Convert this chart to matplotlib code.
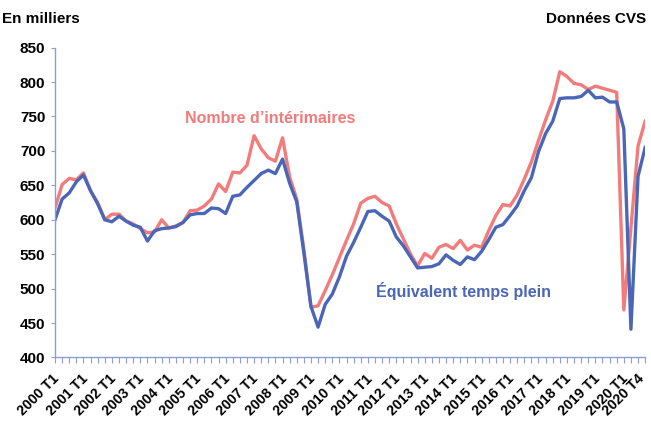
import matplotlib
matplotlib.use("Agg")
import matplotlib.pyplot as plt
import matplotlib.transforms as mtrans
import numpy as np

plt.rcParams['font.family'] = ['Liberation Sans', 'DejaVu Sans']

years = list(range(2000, 2021))
quarters = [f"{y} T{q}" for y in years for q in range(1, 5)]

nombre = [617, 651, 660, 658, 668, 642, 625, 600, 608, 608, 598, 594, 587, 581, 582, 600,
          588, 591, 596, 613, 614, 620, 630, 652, 641, 669, 668, 679, 722, 703, 690, 685,
          719, 662, 630, 557, 473, 475, 497, 520, 545, 570, 594, 624, 631, 634, 625, 620,
          594, 572, 550, 533, 551, 544, 560, 564, 558, 570, 556, 563, 560, 584, 606, 622,
          620, 636, 659, 684, 715, 745, 772, 815, 808, 798, 796, 789, 794, 791, 788, 785,
          469, 588, 707, 743]

etp = [600, 630, 639, 655, 665, 642, 623, 600, 597, 605, 598, 592, 589, 569, 584, 587,
       588, 590, 596, 607, 609, 609, 617, 616, 609, 634, 636, 647, 657, 667, 672, 667,
       688, 653, 626, 552, 474, 444, 477, 492, 517, 547, 567, 589, 612, 613, 605, 598,
       575, 562, 546, 530, 531, 532, 536, 549, 541, 535, 546, 542, 554, 571, 589, 593,
       606, 620, 642, 661, 699, 725, 743, 776, 777, 777, 779, 788, 777, 778, 771, 771,
       732, 441, 663, 705]

tick_labels_shown = [f"{y} T1" for y in years] + ["2020 T4"]

red = '#F27B7B'
blue = '#4A66B6'
axis_col = '#8C9FD4'

fig = plt.figure(figsize=(6.51, 4.21), dpi=100)
ax = fig.add_axes([0.0845, 0.151, 0.9065, 0.736])

x = np.arange(len(quarters))
ax.plot(x, nombre, color=red, lw=2.4, solid_joinstyle='round')
ax.plot(x, etp, color=blue, lw=2.4, solid_joinstyle='round')

ax.set_xlim(0, len(quarters) - 1)
ax.set_ylim(400, 850)
ax.set_yticks(np.arange(400, 851, 50))
ax.set_yticklabels([str(v) for v in range(400, 851, 50)], fontsize=11, fontweight='bold')

ax.set_xticks(x, minor=True)
major_pos = [quarters.index(l) for l in tick_labels_shown]
ax.set_xticks(major_pos)
ax.set_xticklabels(tick_labels_shown, rotation=45, ha='right', va='center',
                   rotation_mode='anchor', fontsize=10.2, fontweight='bold')
ax.tick_params(axis='x', which='both', direction='out', length=4, color=axis_col, width=0.8, pad=10)
ax.tick_params(axis='y', direction='out', length=3, color=axis_col, width=0.8, pad=4)
labs = ax.get_xticklabels()
for i, lab in enumerate(labs):
    dx = 2 if i < len(labs) - 1 else -3
    lab.set_transform(lab.get_transform() + mtrans.ScaledTranslation(dx / 100, 0, fig.dpi_scale_trans))

for s in ['top', 'right']:
    ax.spines[s].set_visible(False)
for s in ['left', 'bottom']:
    ax.spines[s].set_color(axis_col)
    ax.spines[s].set_linewidth(1.0)

fig.text(0.003, 0.955, "En milliers", fontsize=11, fontweight='bold', ha='left', va='center')
fig.text(0.992, 0.955, "Données CVS", fontsize=11, fontweight='bold', ha='right', va='center')

ax.text(30.2, 747, "Nombre d’intérimaires", color=red, fontsize=11.5, fontweight='bold',
        ha='center', va='center')
ax.text(57.5, 497, "Équivalent temps plein", color=blue, fontsize=11.5, fontweight='bold',
        ha='center', va='center')

fig.savefig("out.png", dpi=100)
